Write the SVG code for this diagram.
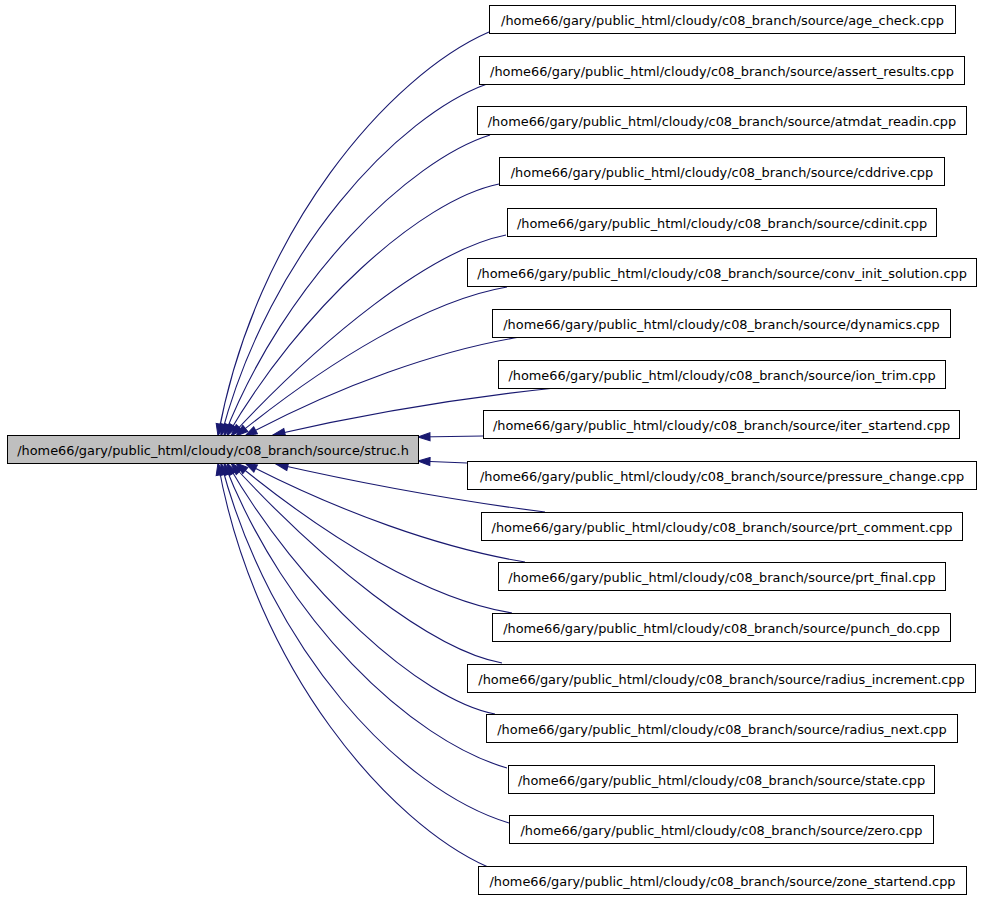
<svg xmlns="http://www.w3.org/2000/svg" width="981" height="899" viewBox="0 0 981 899">
<style>
.n rect{fill:#fff;stroke:#000;stroke-width:1}
.n text{font-family:"DejaVu Sans",sans-serif;font-size:12.9px;fill:#000;text-anchor:middle}
#center rect{fill:#bfbfbf}
.e path{fill:none;stroke:#191970;stroke-width:1.1;marker-end:url(#ah)}
</style>
<defs>
<marker id="ah" markerUnits="userSpaceOnUse" markerWidth="14" markerHeight="10" refX="13" refY="5" orient="auto">
<path d="M1,1 L13,5 L1,9 Z" fill="#191970" stroke="#191970" stroke-width="1"/>
</marker>
</defs>
<rect width="981" height="899" fill="#fff"/>
<g class="e" id="edges">
<path d="M489,32 C390,75 255,230 218,436"/>
<path d="M487,84 C400,115 270,250 221,436"/>
<path d="M490,135 C410,160 285,280 224,436"/>
<path d="M499,184 C420,200 300,310 227,436"/>
<path d="M506,235 C430,250 320,340 231,436"/>
<path d="M507,287 C430,300 330,360 236,436"/>
<path d="M520,337 C440,350 340,385 245,436"/>
<path d="M555,388 C460,398 360,415 273,435"/>
<path d="M483,436 L418,437"/>
<path d="M467,463 L418,461"/>
<path d="M545,512 C450,500 360,483 276,464"/>
<path d="M525,562 C440,548 340,512 245,463"/>
<path d="M512,613 C430,600 330,540 236,463"/>
<path d="M502,663 C430,650 320,560 231,463"/>
<path d="M495,714 C420,700 300,590 227,463"/>
<path d="M507,768 C410,740 285,620 224,463"/>
<path d="M509,823 C400,790 270,650 221,463"/>
<path d="M488,867 C390,824 255,670 218,463"/>
</g>
<g class="n" id="center"><rect x="7.5" y="435.5" width="411" height="28"/><text x="213" y="454.5">/home66/gary/public_html/cloudy/c08_branch/source/struc.h</text></g>
<g class="n" id="n1"><rect x="489.5" y="5.5" width="466" height="28"/><text x="722.5" y="24.5">/home66/gary/public_html/cloudy/c08_branch/source/age_check.cpp</text></g>
<g class="n" id="n2"><rect x="479.5" y="56.5" width="485" height="28"/><text x="722" y="75.5">/home66/gary/public_html/cloudy/c08_branch/source/assert_results.cpp</text></g>
<g class="n" id="n3"><rect x="477.5" y="106.5" width="489" height="28"/><text x="722" y="125.5">/home66/gary/public_html/cloudy/c08_branch/source/atmdat_readin.cpp</text></g>
<g class="n" id="n4"><rect x="499.5" y="157.5" width="445" height="28"/><text x="722" y="176.5">/home66/gary/public_html/cloudy/c08_branch/source/cddrive.cpp</text></g>
<g class="n" id="n5"><rect x="507.5" y="208.5" width="429" height="28"/><text x="722" y="227.5">/home66/gary/public_html/cloudy/c08_branch/source/cdinit.cpp</text></g>
<g class="n" id="n6"><rect x="467.5" y="258.5" width="509" height="28"/><text x="722" y="277.5">/home66/gary/public_html/cloudy/c08_branch/source/conv_init_solution.cpp</text></g>
<g class="n" id="n7"><rect x="492.5" y="309.5" width="458" height="28"/><text x="721.5" y="328.5">/home66/gary/public_html/cloudy/c08_branch/source/dynamics.cpp</text></g>
<g class="n" id="n8"><rect x="498.5" y="360.5" width="447" height="28"/><text x="722" y="379.5">/home66/gary/public_html/cloudy/c08_branch/source/ion_trim.cpp</text></g>
<g class="n" id="n9"><rect x="483.5" y="410.5" width="476" height="28"/><text x="721.5" y="429.5">/home66/gary/public_html/cloudy/c08_branch/source/iter_startend.cpp</text></g>
<g class="n" id="n10"><rect x="467.5" y="461.5" width="509" height="28"/><text x="722" y="480.5">/home66/gary/public_html/cloudy/c08_branch/source/pressure_change.cpp</text></g>
<g class="n" id="n11"><rect x="481.5" y="512.5" width="481" height="28"/><text x="722" y="531.5">/home66/gary/public_html/cloudy/c08_branch/source/prt_comment.cpp</text></g>
<g class="n" id="n12"><rect x="498.5" y="562.5" width="447" height="28"/><text x="722" y="581.5">/home66/gary/public_html/cloudy/c08_branch/source/prt_final.cpp</text></g>
<g class="n" id="n13"><rect x="492.5" y="613.5" width="458" height="28"/><text x="721.5" y="632.5">/home66/gary/public_html/cloudy/c08_branch/source/punch_do.cpp</text></g>
<g class="n" id="n14"><rect x="467.5" y="664.5" width="508" height="28"/><text x="721.5" y="683.5">/home66/gary/public_html/cloudy/c08_branch/source/radius_increment.cpp</text></g>
<g class="n" id="n15"><rect x="486.5" y="714.5" width="471" height="28"/><text x="722" y="733.5">/home66/gary/public_html/cloudy/c08_branch/source/radius_next.cpp</text></g>
<g class="n" id="n16"><rect x="508.5" y="765.5" width="426" height="28"/><text x="721.5" y="784.5">/home66/gary/public_html/cloudy/c08_branch/source/state.cpp</text></g>
<g class="n" id="n17"><rect x="509.5" y="815.5" width="424" height="28"/><text x="721.5" y="834.5">/home66/gary/public_html/cloudy/c08_branch/source/zero.cpp</text></g>
<g class="n" id="n18"><rect x="478.5" y="866.5" width="488" height="28"/><text x="722.5" y="885.5">/home66/gary/public_html/cloudy/c08_branch/source/zone_startend.cpp</text></g>
</svg>
